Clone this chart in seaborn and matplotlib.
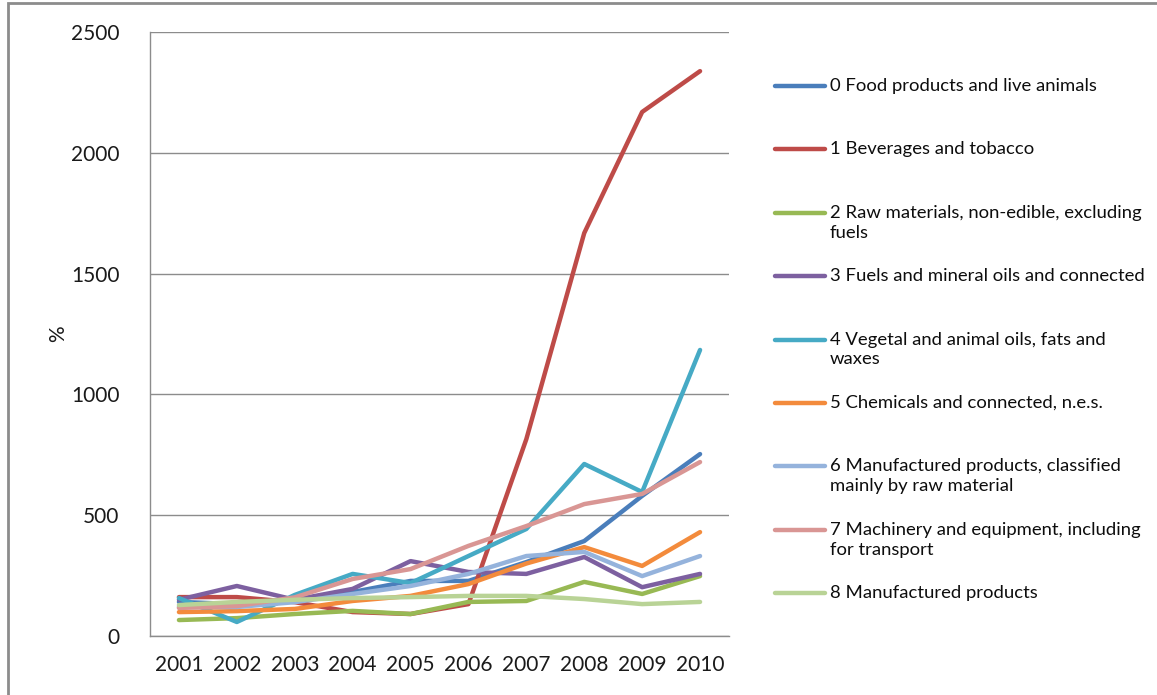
import numpy as np
import pandas as pd
import seaborn as sns
import matplotlib.pyplot as plt
from matplotlib.lines import Line2D
from matplotlib.patches import Rectangle

years = [2001, 2002, 2003, 2004, 2005, 2006, 2007, 2008, 2009, 2010]

labels = [
    "0 Food products and live animals",
    "1 Beverages and tobacco",
    "2 Raw materials, non-edible, excluding\nfuels",
    "3 Fuels and mineral oils and connected",
    "4 Vegetal and animal oils, fats and\nwaxes",
    "5 Chemicals and connected, n.e.s.",
    "6 Manufactured products, classified\nmainly by raw material",
    "7 Machinery and equipment, including\nfor transport",
    "8 Manufactured products",
]

food = [141, 132, 150, 182, 228, 228, 306, 393, 580, 753]
beverages = [161, 161, 140, 99, 91, 132, 815, 1668, 2169, 2338]
raw = [66, 74, 91, 104, 91, 141, 145, 224, 174, 248]
fuels = [150, 207, 150, 195, 310, 265, 257, 327, 202, 257]
oils = [157, 58, 170, 257, 219, 331, 443, 712, 596, 1184]
chemicals = [99, 103, 112, 145, 166, 215, 300, 368, 290, 430]
manuf_raw = [120, 120, 140, 174, 207, 257, 331, 348, 248, 331]
machinery = [116, 124, 160, 236, 277, 373, 455, 546, 588, 720]
manuf = [128, 141, 150, 157, 161, 166, 166, 153, 132, 141]

series = [food, beverages, raw, fuels, oils, chemicals, manuf_raw, machinery, manuf]
colors = ["#4A7EBB", "#BE4B48", "#98B954", "#7D60A0", "#46AAC5",
          "#F38B3C", "#95B3DC", "#D99694", "#B9D396"]

rows = []
for lab, vals in zip(labels, series):
    for yr, v in zip(years, vals):
        rows.append({"year": yr, "value": v, "series": lab})
df = pd.DataFrame(rows)

sns.set_style("white")
plt.rcParams['font.family'] = ['Lato', 'DejaVu Sans']

fig = plt.figure(figsize=(11.57, 6.95), dpi=100)
ax = fig.add_axes([150 / 1157, 1 - 636 / 695, (729 - 150) / 1157, (636 - 32) / 695])

sns.lineplot(data=df, x="year", y="value", hue="series", hue_order=labels,
             palette=colors, linewidth=3.2, legend=False, ax=ax)

ax.set_xlim(2000.5, 2010.5)
ax.set_ylim(0, 2500)
ax.set_xticks(years)
ax.set_yticks(np.arange(0, 2501, 500))
ax.tick_params(axis="both", length=0, labelsize=15, colors="#1a1a1a")
ax.tick_params(axis="x", pad=14)
ax.tick_params(axis="y", pad=22)
ax.set_xlabel("")
ax.set_ylabel("%", fontsize=15, color="#1a1a1a", labelpad=2)
ax.yaxis.grid(True, color="#8C8C8C", linewidth=1)
ax.xaxis.grid(False)
for s in ["top", "right"]:
    ax.spines[s].set_visible(False)
for s in ["left", "bottom"]:
    ax.spines[s].set_color("#8C8C8C")
    ax.spines[s].set_linewidth(1)

# legend drawn Excel-style: handle aligned with first text line
y0 = 86
step = 63.4
for i, (lab, col) in enumerate(zip(labels, colors)):
    yy = 1 - (y0 + i * step) / 695
    fig.add_artist(Line2D([775 / 1157, 825 / 1157], [yy, yy], color=col,
                          linewidth=3.2, solid_capstyle="round"))
    fig.text(830 / 1157, yy + 8 / 695, lab, fontsize=13.3, color="#0d0d0d",
             va="top", ha="left", linespacing=1.3)

# outer chart border
fig.add_artist(Rectangle((8 / 1157, -0.05), 1.1, 1 - 3 / 695 + 0.05,
                         transform=fig.transFigure, fill=False,
                         edgecolor="#8C8C8C", linewidth=2))

fig.savefig("out.png", dpi=100)
